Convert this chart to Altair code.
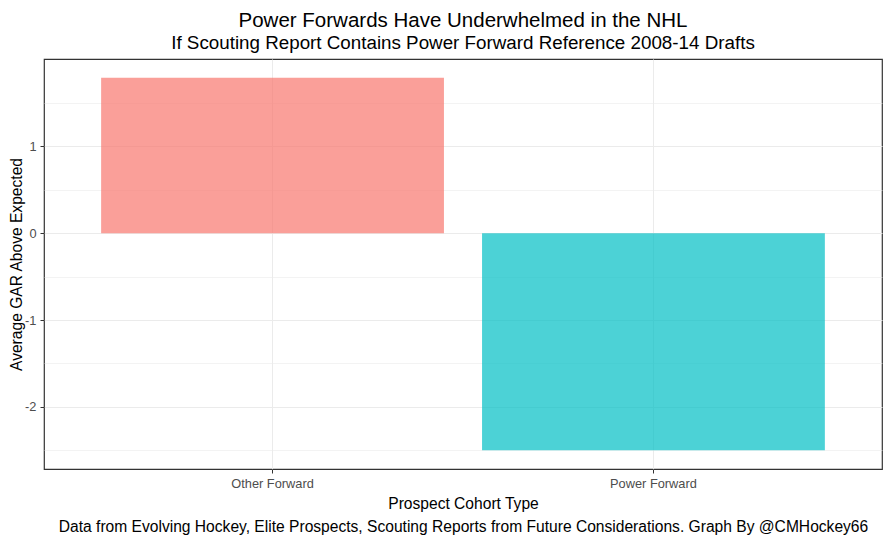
import altair as alt
import pandas as pd

categories = ["Other Forward", "Power Forward"]
values = [1.79, -2.5]
colors = ["#F8766D", "#00BFC4"]
y_ticks = [-2.5, -2, -1.5, -1, -0.5, 0, 0.5, 1, 1.5]

df = pd.DataFrame({"cohort": categories, "gar": values})

font = "Liberation Sans"

bars = alt.Chart(df).mark_bar(opacity=0.7).encode(
    x=alt.X(
        "cohort:N",
        scale=alt.Scale(paddingInner=0.1, paddingOuter=0.15),
        axis=alt.Axis(
            title=["Prospect Cohort Type",
                   "Data from Evolving Hockey, Elite Prospects, Scouting Reports from Future Considerations. Graph By @CMHockey66"],
            titleLineHeight=23,
            titleFontSize=15.6, titleFontWeight="normal", titleColor="#000000", titleFont=font,
            titlePadding=7,
            labelAngle=0, labelFontSize=12.8, labelColor="#4D4D4D", labelFont=font, labelPadding=4,
            bandPosition=0.5, grid=True, gridColor="#EBEBEB", gridWidth=1,
            tickColor="#333333", tickSize=4, domain=False,
        ),
    ),
    y=alt.Y(
        "gar:Q",
        scale=alt.Scale(domain=[-2.7145, 2.0045], nice=False, zero=False),
        axis=alt.Axis(
            title="Average GAR Above Expected",
            titleFontSize=15.6, titleFontWeight="normal", titleColor="#000000", titleFont=font,
            titlePadding=0,
            values=y_ticks,
            labelExpr="datum.value % 1 === 0 ? '' + datum.value : ''",
            labelFontSize=12.8, labelColor="#4D4D4D", labelFont=font, labelPadding=4,
            grid=True, gridColor="#EBEBEB",
            gridWidth=alt.expr("datum.value % 1 === 0 ? 1 : 0.6"),
            tickColor="#333333",
            tickSize=alt.expr("datum.value % 1 === 0 ? 4 : 0"),
            domain=False,
        ),
    ),
    color=alt.Color("cohort:N", scale=alt.Scale(domain=categories, range=colors), legend=None),
)

chart = bars.properties(
    width=838,
    height=410,
    autosize=alt.AutoSizeParams(type="none"),
    padding={"left": 36, "top": 51, "right": 1, "bottom": 66},
    view=alt.ViewBackground(stroke="#333333", strokeWidth=1.2),
    title=alt.TitleParams(
        text="Power Forwards Have Underwhelmed in the NHL",
        subtitle="If Scouting Report Contains Power Forward Reference 2008-14 Drafts",
        fontSize=20.5, subtitleFontSize=18.8, font=font, subtitleFont=font,
        fontWeight="normal", color="#000000", subtitleColor="#000000",
        anchor="middle", offset=6, subtitlePadding=3,
    ),
).configure_view(stroke="#333333", strokeWidth=1.2).configure(background="white")

chart.save("out.html", embed_options={"renderer": "svg", "actions": False})
